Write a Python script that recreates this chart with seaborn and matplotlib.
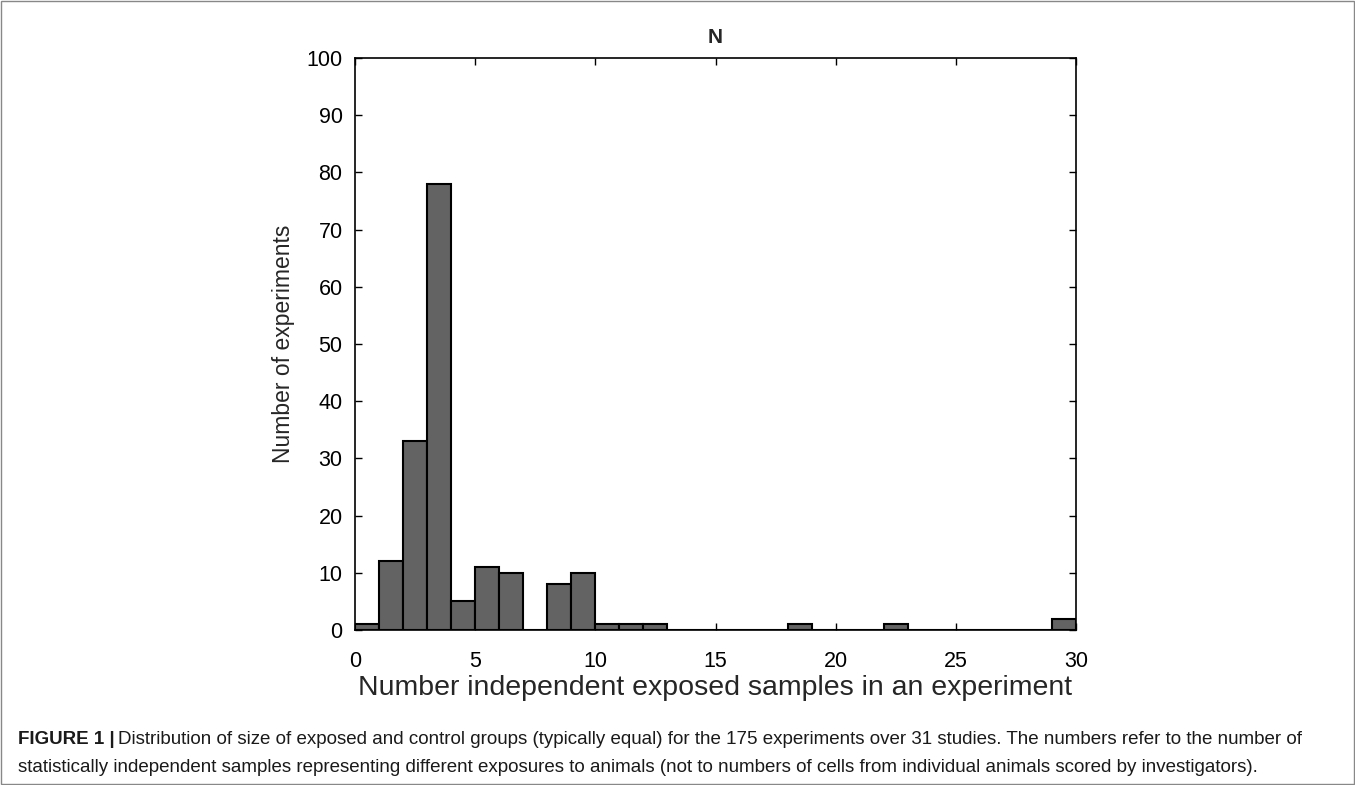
import numpy as np
import matplotlib
matplotlib.use("Agg")
import matplotlib.pyplot as plt
import seaborn as sns

# Histogram counts per unit-width bin (left edge -> count)
bin_left = [0, 1, 2, 3, 4, 5, 6, 8, 9, 10, 11, 12, 18, 22, 29]
counts = [1, 12, 33, 78, 5, 11, 10, 8, 10, 1, 1, 1, 1, 1, 2]
bin_edges = list(range(0, 31))
yticks = list(range(0, 101, 10))
xticks = [0, 5, 10, 15, 20, 25, 30]

sns.set_theme(style="white")
plt.rcParams['font.family'] = ['Liberation Sans', 'DejaVu Sans']

fig = plt.figure(figsize=(13.55, 7.85), dpi=100)
ax = fig.add_axes([355 / 1355, 1 - 630 / 785, (1076 - 355) / 1355, (630 - 58) / 785])

centers = np.array(bin_left) + 0.5
sns.histplot(x=centers, weights=counts, bins=bin_edges, ax=ax,
             color='#636363', edgecolor='black', linewidth=1.5, alpha=1)

ax.set_xlim(0, 30)
ax.set_ylim(0, 100)
ax.set_xticks(xticks)
ax.set_yticks(yticks)
ax.tick_params(direction='in', length=5, width=1, labelsize=15.5, colors='black',
               top=True, right=True, bottom=True, left=True)
ax.tick_params(axis='x', pad=15)
ax.tick_params(axis='y', pad=9)
ax.tick_params(labeltop=False, labelright=False)
for s in ax.spines.values():
    s.set_visible(True)
    s.set_color('black')
    s.set_linewidth(1.2)

ax.set_title('N', fontsize=15, fontweight='bold', pad=11)
ax.set_xlabel('Number independent exposed samples in an experiment', fontsize=20.5, labelpad=2)
ax.set_ylabel('Number of experiments', fontsize=16.5, labelpad=8)

# caption
cap_y1 = 1 - 739 / 785
cap_y2 = 1 - 767 / 785
fig.text(18 / 1355, cap_y1, 'FIGURE 1 |', fontsize=13.5, fontweight='bold',
         va='center', ha='left', color='#1a1a1a')
fig.text(118 / 1355, cap_y1,
         'Distribution of size of exposed and control groups (typically equal) for the 175 experiments over 31 studies. The numbers refer to the number of',
         fontsize=13.5, va='center', ha='left', color='#1a1a1a')
fig.text(18 / 1355, cap_y2,
         'statistically independent samples representing different exposures to animals (not to numbers of cells from individual animals scored by investigators).',
         fontsize=13.5, va='center', ha='left', color='#1a1a1a')

# thin frame around the figure
fig.patches.append(plt.Rectangle((0.001, 0.001), 0.998, 0.998, transform=fig.transFigure,
                                 fill=False, edgecolor='#888888', linewidth=1))

fig.savefig('out.png', dpi=100)
